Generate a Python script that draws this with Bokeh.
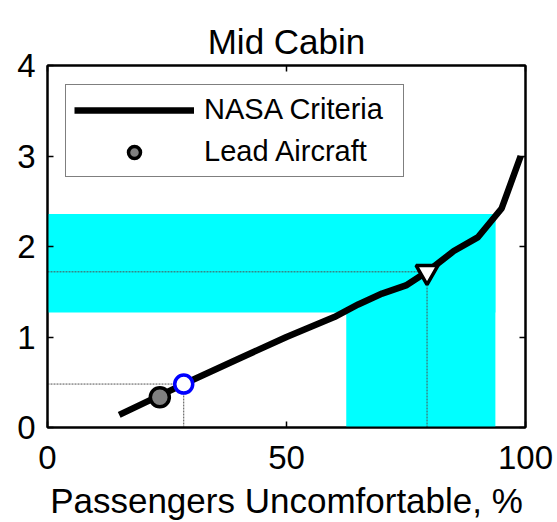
from bokeh.plotting import figure
from bokeh.models import Legend, LegendItem, LinearAxis, FixedTicker, Range1d
from bokeh.embed import file_html
from bokeh.resources import INLINE

# ---- data ----
criteria_x = [15, 28.5, 40, 50, 60, 65, 70, 75, 79.4, 85, 90, 95, 99]
criteria_y = [0.14, 0.48, 0.76, 1.0, 1.22, 1.36, 1.48, 1.57, 1.72, 1.95, 2.10, 2.42, 3.0]

lead_x = [23.5]
lead_y = [0.335]

target_x = [28.5]
target_y = [0.48]

limit_x = [79.4]
limit_y = [1.72]

# cyan regions: horizontal band and vertical band
band_left = [0, 62.5]
band_right = [93.7, 93.7]
band_bottom = [1.27, 0]
band_top = [2.36, 2.36]

x_ticks = [0, 50, 100]
y_ticks = [0, 1, 2, 3, 4]

title_text = "Mid Cabin"
FONT = "Liberation Sans"

p = figure(width=557, height=522, x_range=Range1d(0, 100), y_range=Range1d(0, 4),
           output_backend="svg", toolbar_location=None,
           min_border_left=47, min_border_right=32, min_border_top=65, min_border_bottom=95)
p.grid.visible = False
p.outline_line_color = "black"
p.outline_line_width = 2
p.background_fill_color = "white"
p.border_fill_color = "white"

p.title.text = title_text
p.title.align = "center"
p.title.text_font = FONT
p.title.text_font_size = "35px"
p.title.text_font_style = "normal"
p.title.text_color = "black"

p.quad(left=band_left, right=band_right, bottom=band_bottom, top=band_top,
       fill_color="#00FFFF", line_color=None)

# guide lines
p.segment(x0=[0, limit_x[0], 0, target_x[0]], y0=[limit_y[0], 0, target_y[0], 0],
          x1=[limit_x[0], limit_x[0], target_x[0], target_x[0]],
          y1=[limit_y[0], limit_y[0], target_y[0], target_y[0]],
          line_color="#505050", line_width=1, line_dash="2 1")

r_line = p.line(criteria_x, criteria_y, line_width=6.5, line_color="black")
r_lead = p.scatter(lead_x, lead_y, marker="circle", size=19, fill_color="#808080",
                   line_color="black", line_width=3.5)
p.scatter(target_x, target_y, marker="circle", size=18, fill_color="white",
          line_color="#0000FF", line_width=3.5)
p.scatter(limit_x, limit_y, marker="inverted_triangle", size=22, fill_color="white",
          line_color="black", line_width=3.5)

for ax in (p.xaxis[0], p.yaxis[0]):
    ax.major_label_text_font = FONT
    ax.major_label_text_font_size = "33px"
    ax.major_label_text_color = "black"
    ax.major_tick_in = 6
    ax.major_tick_out = 0
    ax.minor_tick_line_color = None
    ax.axis_line_width = 2
    ax.major_tick_line_width = 1.5
    ax.axis_label_text_font = FONT
    ax.axis_label_text_font_style = "normal"
    ax.axis_label_text_font_size = "35px"
    ax.axis_label_text_color = "black"

p.xaxis.ticker = FixedTicker(ticks=x_ticks)
p.yaxis.ticker = FixedTicker(ticks=y_ticks)
p.xaxis.major_label_standoff = 18
p.yaxis.major_label_standoff = 12
p.xaxis.axis_label = "Passengers Uncomfortable, %"
p.xaxis.axis_label_standoff = 9

top_ax = LinearAxis(ticker=FixedTicker(ticks=x_ticks), major_label_text_color=None,
                    major_label_text_font_size="10px",
                    major_tick_in=6, major_tick_out=0, minor_tick_line_color=None,
                    axis_line_width=2, major_tick_line_width=1.5)
right_ax = LinearAxis(ticker=FixedTicker(ticks=y_ticks), major_label_text_color=None,
                      major_label_text_font_size="10px",
                      major_tick_in=6, major_tick_out=0, minor_tick_line_color=None,
                      axis_line_width=2, major_tick_line_width=1.5)
# invisible spacer above the frame to lift the title
spacer_ax = LinearAxis(ticker=FixedTicker(ticks=[]), axis_line_color=None,
                       major_tick_line_color=None, minor_tick_line_color=None,
                       major_tick_in=0, major_tick_out=13, major_label_standoff=0,
                       major_label_text_color=None)
p.add_layout(top_ax, "above")
p.add_layout(spacer_ax, "above")
p.add_layout(right_ax, "right")

legend = Legend(items=[LegendItem(label="NASA Criteria", renderers=[r_line]),
                       LegendItem(label="Lead Aircraft", renderers=[r_lead])],
                location=(18, 250))
legend.border_line_color = "black"
legend.border_line_width = 1.5
legend.background_fill_color = "white"
legend.background_fill_alpha = 1
legend.label_text_font = FONT
legend.label_text_font_size = "29px"
legend.label_text_color = "black"
legend.glyph_width = 120
legend.glyph_height = 30
legend.label_height = 30
legend.label_width = 191
legend.spacing = 9
legend.padding = 8
legend.label_standoff = 10
legend.margin = 0
p.add_layout(legend)

open("out.html", "w").write(file_html(p, INLINE))
